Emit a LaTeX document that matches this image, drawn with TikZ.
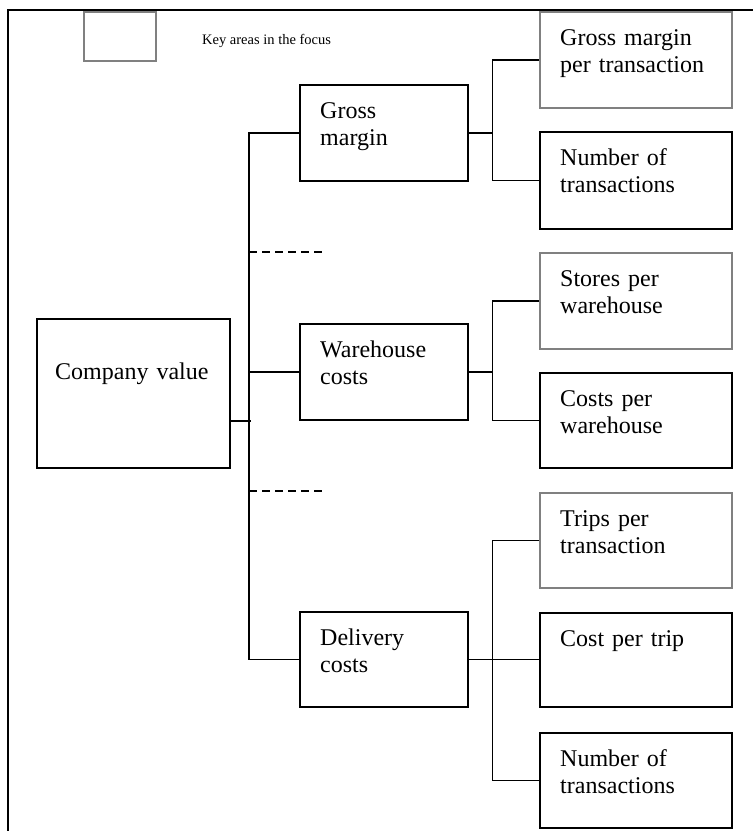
\documentclass[tikz,border=0pt]{standalone}
\usepackage{fontspec}
\setmainfont{Liberation Serif}
\definecolor{boxgrey}{RGB}{128,128,128}
\begin{document}
\begin{tikzpicture}[x=1pt,y=-1pt,
  boxbase/.style={rectangle, inner sep=0pt, line width=1.5pt, anchor=north west},
  blkbox/.style={boxbase, draw=black},
  grybox/.style={boxbase, draw=boxgrey},
  txt/.style={anchor=base west, inner sep=0pt, text width=185pt, align=left,
    font=\fontsize{24}{27}\selectfont},
  conn/.style={line width=1.5pt, draw=black},
  dashline/.style={line width=1.4pt, draw=black, dash pattern=on 8pt off 5pt}]
\useasboundingbox (0,0) rectangle (753,831);
% frame
\draw[line width=1.2pt] (8,831) -- (8,10) -- (753,10);
% legend
\node[grybox, minimum width=72pt, minimum height=49pt] (key) at (83,11) {};
\node[anchor=base west, inner sep=0pt, font=\fontsize{14.5}{17}\selectfont] (keytxt) at (202,44) {Key areas in the focus};
% boxes
\node[blkbox, minimum width=193pt, minimum height=149pt] (cv) at (36,318) {};
\node[blkbox, minimum width=168pt, minimum height=96pt] (gm) at (299,84) {};
\node[blkbox, minimum width=168pt, minimum height=96pt] (wc) at (299,323) {};
\node[blkbox, minimum width=168pt, minimum height=95pt] (dc) at (299,611) {};
\node[grybox, minimum width=192pt, minimum height=96pt] (r1) at (539,11) {};
\node[blkbox, minimum width=192pt, minimum height=97pt] (r2) at (539,131) {};
\node[grybox, minimum width=192pt, minimum height=96pt] (r3) at (539,252) {};
\node[blkbox, minimum width=192pt, minimum height=95pt] (r4) at (539,372) {};
\node[grybox, minimum width=192pt, minimum height=95pt] (r5) at (539,492) {};
\node[blkbox, minimum width=192pt, minimum height=94pt] (r6) at (539,612) {};
\node[blkbox, minimum width=192pt, minimum height=95pt] (r7) at (539,732) {};
% texts
\node[txt] (cvt) at ([xshift=19pt,yshift=-61pt]cv.north west) {Company value};
\node[txt] (gmt) at ([xshift=21pt,yshift=-34pt]gm.north west) {Gross\\margin};
\node[txt] (wct) at ([xshift=21pt,yshift=-34pt]wc.north west) {Warehouse\\costs};
\node[txt] (dct) at ([xshift=21pt,yshift=-34pt]dc.north west) {Delivery\\costs};
\node[txt] (r1t) at ([xshift=21pt,yshift=-34pt]r1.north west) {Gross margin\\per transaction};
\node[txt] (r2t) at ([xshift=21pt,yshift=-34pt]r2.north west) {Number of\\transactions};
\node[txt] (r3t) at ([xshift=21pt,yshift=-34pt]r3.north west) {Stores per\\warehouse};
\node[txt] (r4t) at ([xshift=21pt,yshift=-34pt]r4.north west) {Costs per\\warehouse};
\node[txt] (r5t) at ([xshift=21pt,yshift=-34pt]r5.north west) {Trips per\\transaction};
\node[txt] (r6t) at ([xshift=21pt,yshift=-34pt]r6.north west) {Cost per trip};
\node[txt] (r7t) at ([xshift=21pt,yshift=-34pt]r7.north west) {Number of\\transactions};
% trunk connectors
\draw[conn] ([yshift=-27.5pt]cv.east) -- ++(20,0);
\draw[conn] (gm.west) -- ++(-50,0) |- (dc.west);
\draw[conn] (wc.west) -- ++(-50,0);
\coordinate (d1a) at (249,252);
\coordinate (d1b) at (326,252);
\coordinate (d2a) at (249,491);
\coordinate (d2b) at (326,491);
\draw[dashline] (d1a) -- (d1b);
\draw[dashline] (d2a) -- (d2b);
% right connectors
\draw[conn] (gm.east) -- ++(24,0);
\draw[conn] (r1.west) -| ([xshift=24pt]gm.east) |- (r2.west);
\draw[conn] (wc.east) -- ++(24,0);
\draw[conn] (r3.west) -| ([xshift=24pt]wc.east) |- (r4.west);
\draw[conn] (dc.east) -- (dc.east -| r6.west);
\draw[conn] (r5.west) -| ([xshift=24pt]dc.east) |- (r7.west);
\end{tikzpicture}
\end{document}
